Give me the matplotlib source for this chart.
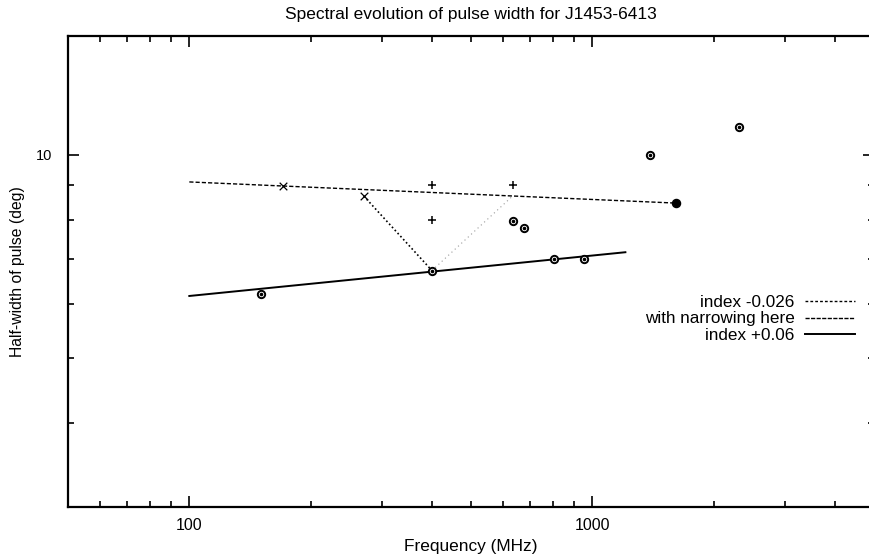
import matplotlib
matplotlib.use("Agg")
import matplotlib.pyplot as plt
from matplotlib.lines import Line2D
from matplotlib.ticker import FixedLocator, NullFormatter

plt.rcParams['font.family'] = ['Liberation Sans', 'DejaVu Sans']

# measured widths (open circles with a dot)
circ_freq = [151, 400, 634, 675, 804, 951, 1387, 2312]
circ_width = [6.22, 6.73, 7.97, 7.78, 7.0, 7.0, 10.0, 10.98]

# filled point
fill_freq = [1614]
fill_width = [8.47]

# plus markers
plus_freq = [400, 400, 634]
plus_width = [9.0, 8.0, 9.0]

# cross markers
cross_freq = [171, 271]
cross_width = [8.98, 8.68]

# power-law lines: (start, end, amplitude at 100 MHz, index)
neg_range = [100, 1614]
neg_amp = 9.11
neg_index = -0.026

pos_range = [100, 1208]
pos_amp = 6.17
pos_index = 0.06

# narrowing V
v_left_freq = [271, 400]
v_left_width = [8.68, 6.73]
v_right_freq = [400, 634]
v_right_width = [6.73, 8.68]

fig = plt.figure(figsize=(8.69, 5.6), dpi=100)
ax = fig.add_axes([68 / 869, 1 - 507 / 560, (874 - 68) / 869, (507 - 36) / 560])
ax.set_xscale('log')
ax.set_yscale('log')
ax.set_xlim(50, 5000)
ax.set_ylim(3, 15)

def powerlaw(rng, amp, idx):
    return [amp * (f / 100.0) ** idx for f in rng]

ax.plot(neg_range, powerlaw(neg_range, neg_amp, neg_index), color='black', lw=1,
        dashes=(3, 1.5))
ax.plot(pos_range, powerlaw(pos_range, pos_amp, pos_index), color='black', lw=1.4)
ax.plot(v_left_freq, v_left_width, color='black', lw=1.2, dashes=(1, 1.5))
ax.plot(v_right_freq, v_right_width, color='#999999', lw=0.8, dashes=(1, 3))

ax.scatter(circ_freq, circ_width, s=28, facecolors='white', edgecolors='black',
           linewidths=1.4, zorder=3)
ax.scatter(circ_freq, circ_width, s=2.5, color='black', zorder=4)
ax.scatter(fill_freq, fill_width, s=34, color='black', zorder=3)
ax.scatter(plus_freq, plus_width, s=40, marker='+', color='black', linewidths=1.1, zorder=3)
ax.scatter(cross_freq, cross_width, s=30, marker='x', color='black', linewidths=0.9, zorder=3)

for sp in ax.spines.values():
    sp.set_linewidth(1.6)

ax.xaxis.set_major_locator(FixedLocator([100, 1000]))
ax.xaxis.set_minor_locator(FixedLocator([60, 70, 80, 90, 200, 300, 400, 500, 600, 700,
                                         800, 900, 2000, 3000, 4000]))
ax.xaxis.set_major_formatter(plt.FixedFormatter(['100', '1000']))
ax.xaxis.set_minor_formatter(NullFormatter())
ax.yaxis.set_major_locator(FixedLocator([10]))
ax.yaxis.set_minor_locator(FixedLocator([4, 5, 6, 7, 8, 9]))
ax.yaxis.set_major_formatter(plt.FixedFormatter(['10']))
ax.yaxis.set_minor_formatter(NullFormatter())
ax.tick_params(which='both', direction='in', top=True, right=True,
               color='black', width=1.2)
ax.tick_params(which='major', length=8)
ax.tick_params(which='minor', length=4)
ax.tick_params(axis='x', which='major', labelsize=11.5, pad=8)
ax.tick_params(axis='y', which='major', labelsize=10.5, pad=11)

ax.set_title('Spectral evolution of pulse width for J1453-6413', fontsize=12.5, pad=12)
ax.set_xlabel('Frequency (MHz)', fontsize=12.4, labelpad=4)
ax.set_ylabel('Half-width of pulse (deg)', fontsize=11.3, labelpad=8)

handles = [
    Line2D([], [], color='black', lw=1, dashes=(2, 1.5)),
    Line2D([], [], color='black', lw=1, dashes=(3, 1)),
    Line2D([], [], color='black', lw=1.4),
]
labels = ['index -0.026', 'with narrowing here', 'index +0.06']
ax.legend(handles, labels, loc='center right', bbox_to_anchor=(855 / 869, 1 - 319 / 560),
          bbox_transform=fig.transFigure, frameon=False, markerfirst=False, fontsize=12.3,
          handlelength=2.95, handletextpad=0.58, labelspacing=0.08, borderaxespad=0,
          borderpad=0)

fig.savefig('out.png', dpi=100)
